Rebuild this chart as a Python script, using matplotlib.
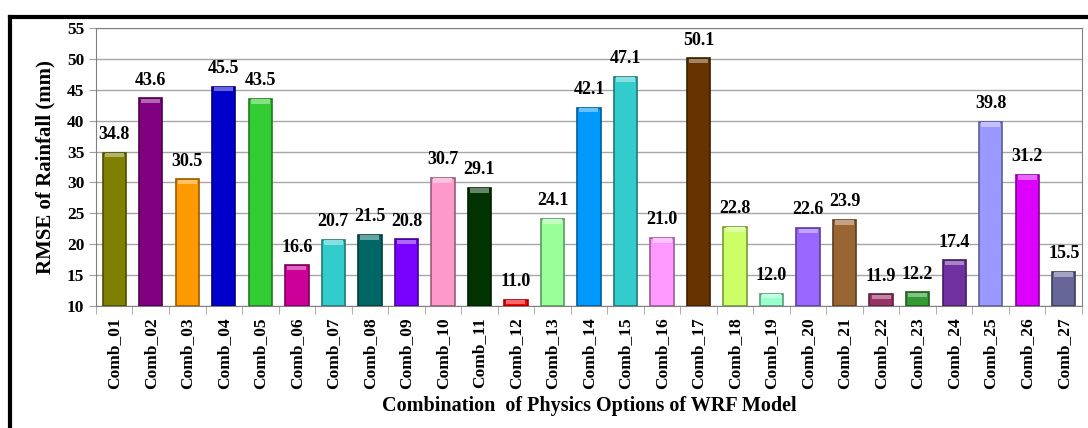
import numpy as np
import matplotlib.pyplot as plt
from matplotlib.lines import Line2D
from matplotlib.colors import to_rgb

combos = ['Comb_%02d' % i for i in range(1, 28)]
rmse = [34.8, 43.6, 30.5, 45.5, 43.5, 16.6, 20.7, 21.5, 20.8, 30.7,
        29.1, 11.0, 24.1, 42.1, 47.1, 21.0, 50.1, 22.8, 12.0, 22.6,
        23.9, 11.9, 12.2, 17.4, 39.8, 31.2, 15.5]
colors = ['#808000', '#800080', '#ff9900', '#0000cc', '#33cc33', '#cc0099',
          '#33cccc', '#006666', '#7700ff', '#ff99cc', '#003300', '#ff0000',
          '#99ff99', '#0099ff', '#33cccc', '#ff99ff', '#663300', '#ccff66',
          '#99ffcc', '#9966ff', '#996633', '#993366', '#339933', '#7030a0',
          '#9999ff', '#dd00ff', '#666699']

plt.rcParams['font.family'] = ['Liberation Serif', 'DejaVu Serif']
plt.rcParams['font.weight'] = 'bold'

fig = plt.figure(figsize=(10.88, 4.28), dpi=100)
ax = fig.add_axes([0.0882, 0.285, 0.9063, 0.6494])

x = np.arange(len(combos))
edge = [tuple(c * 0.6 for c in to_rgb(col)) for col in colors]
bars = ax.bar(x, [v - 10 for v in rmse], bottom=10, width=0.64,
              color=colors, edgecolor=edge, linewidth=1.2, zorder=3)

# lighter cap on top of each bar
caps = [tuple(min(1, c + (1 - c) * 0.4) for c in to_rgb(col)) for col in colors]
ax.bar(x, [0.7] * len(x), bottom=[v - 0.75 for v in rmse], width=0.52,
       color=caps, linewidth=0, zorder=4)

for xi, v in zip(x, rmse):
    ax.annotate(f'{v:.1f}', (xi, v), xytext=(0, 7), textcoords='offset points',
                ha='center', va='bottom', fontsize=13, fontweight='bold')

ax.set_ylim(10, 55)
ax.set_yticks(range(10, 56, 5))
ax.set_xlim(-0.5, len(combos) - 0.5)
ax.set_xticks(x)
ax.set_xticklabels(combos, rotation=90, fontsize=12.5, fontweight='bold')
ax.set_xticks(np.arange(-0.5, len(combos)), minor=True)
ax.tick_params(axis='x', which='major', length=0, pad=8)
ax.tick_params(axis='x', which='minor', length=6, color='#a0a0a0')
ax.tick_params(axis='y', length=5, color='#a0a0a0', labelsize=12.5)
for lab in ax.get_yticklabels():
    lab.set_fontweight('bold')

ax.yaxis.grid(True, color='#a6a6a6', linewidth=1, zorder=0)
ax.set_axisbelow(True)
for s in ax.spines.values():
    s.set_color('#808080')

ax.set_ylabel('RMSE of Rainfall (mm)', fontsize=15, fontweight='bold', labelpad=8)
ax.set_xlabel('Combination  of Physics Options of WRF Model', fontsize=14.5,
              fontweight='bold', labelpad=5)

# outer frame
fig.add_artist(Line2D([0.0092, 1], [0.96, 0.96], color='black', lw=3))
fig.add_artist(Line2D([0.0092, 0.0092], [0, 0.96], color='black', lw=3))

fig.savefig('out.png', dpi=100)
